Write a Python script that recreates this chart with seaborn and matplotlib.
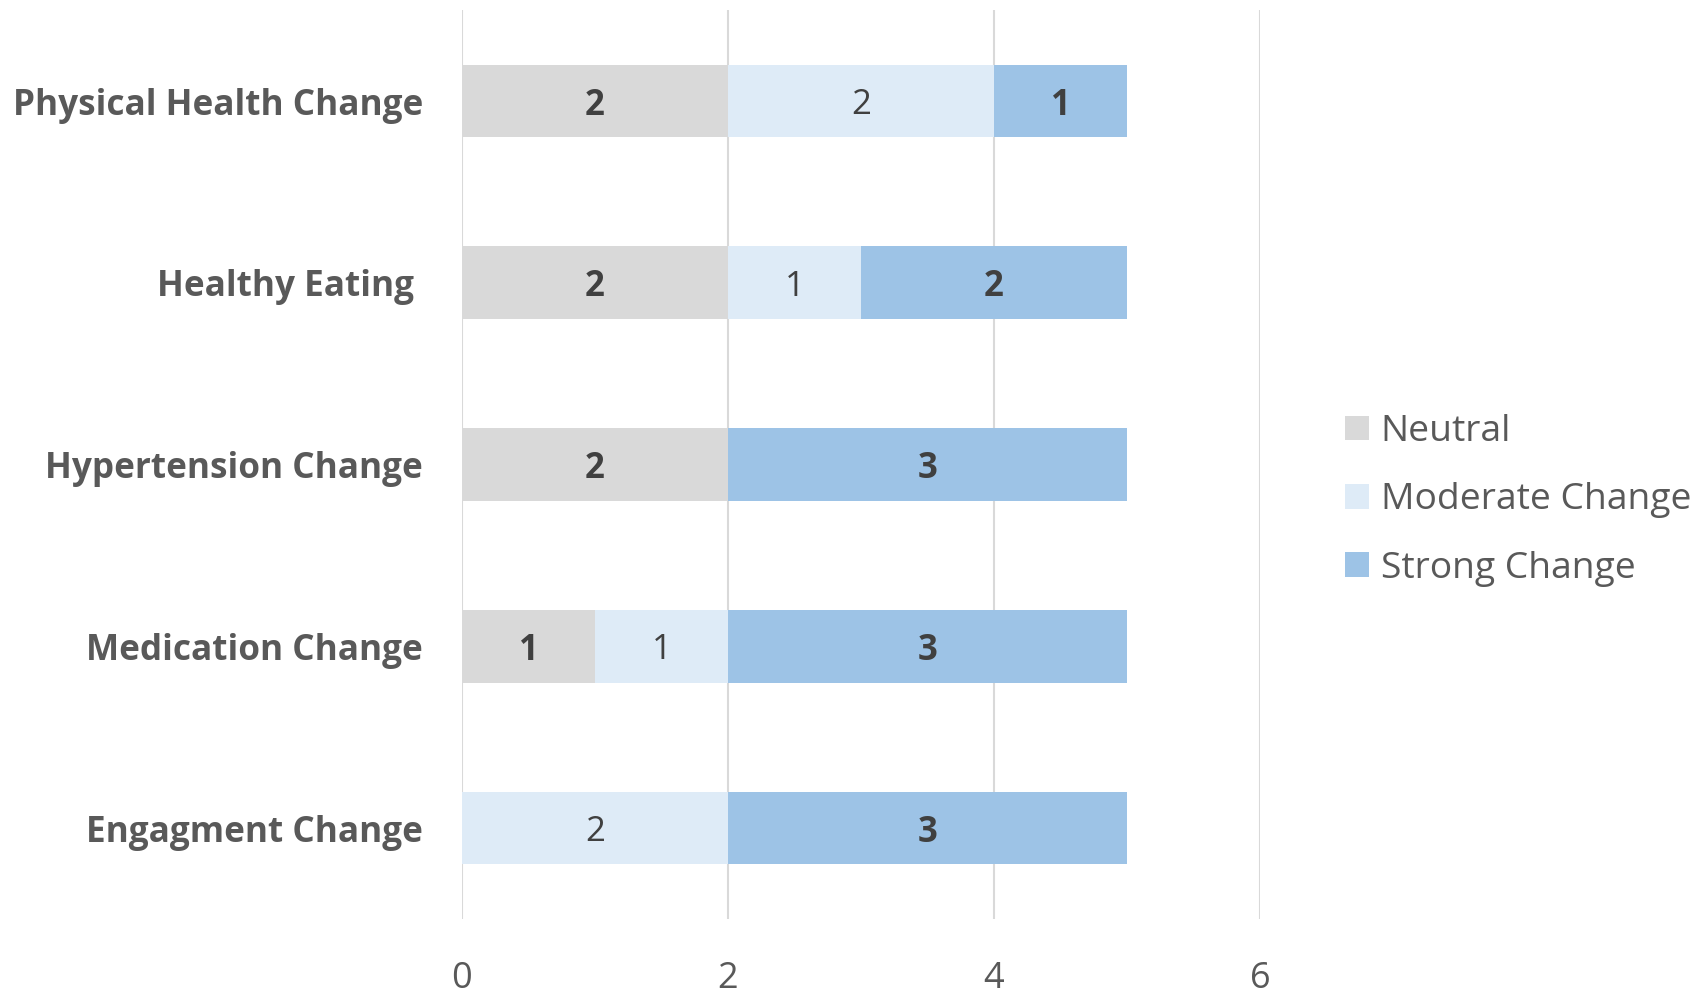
import matplotlib
matplotlib.use("Agg")
import matplotlib.pyplot as plt
import seaborn as sns
import pandas as pd
import numpy as np

# Survey results: number of participants per change level
categories = ["Physical Health Change", "Healthy Eating ", "Hypertension Change",
              "Medication Change", "Engagment Change"]
neutral = [2, 2, 2, 1, 0]
moderate = [2, 1, 0, 1, 2]
strong = [1, 2, 3, 3, 3]
series_names = ["Neutral", "Moderate Change", "Strong Change"]
x_ticks = [0, 2, 4, 6]

colors = {"Neutral": "#D9D9D9", "Moderate Change": "#DEEBF7", "Strong Change": "#9DC3E6"}
text_grey = "#595959"
value_grey = "#404040"

sns.set_theme(style="white")
plt.rcParams["font.family"] = ["Open Sans", "DejaVu Sans"]

df = pd.DataFrame({"category": categories, "Neutral": neutral,
                   "Moderate Change": moderate, "Strong Change": strong})
df["cum_neutral"] = df["Neutral"]
df["cum_moderate"] = df["cum_neutral"] + df["Moderate Change"]
df["cum_strong"] = df["cum_moderate"] + df["Strong Change"]

fig = plt.figure(figsize=(17.01, 10.01), dpi=100)
ax = fig.add_axes([0.2716, 0.0819, 0.4691, 0.908])

# Stacked bars drawn as overlapping cumulative totals, longest first
for col, name in [("cum_strong", "Strong Change"),
                  ("cum_moderate", "Moderate Change"),
                  ("cum_neutral", "Neutral")]:
    sns.barplot(data=df, x=col, y="category", order=categories, orient="h",
                color=colors[name], saturation=1, width=0.4, label=name,
                linewidth=0, ax=ax, zorder=2)

# Segment value labels
for i, cat in enumerate(categories):
    start = 0
    for name in series_names:
        v = df.loc[i, name]
        if v > 0:
            bold = name != "Moderate Change"
            ax.text(start + v / 2, i, f"{v}", ha="center", va="center_baseline",
                    fontsize=25, color=value_grey,
                    fontweight="bold" if bold else "normal", zorder=3)
        start += v

ax.set_xlim(0, 6)
ax.set_ylim(4.5, -0.5)
ax.set_xticks(x_ticks)
ax.set_xticklabels([str(t) for t in x_ticks])
ax.set_xlabel("")
ax.set_ylabel("")
ax.xaxis.grid(True, color="#D9D9D9", linewidth=1.5, zorder=0)
ax.set_axisbelow(True)
for s in ax.spines.values():
    s.set_visible(False)
ax.tick_params(axis="x", length=0, pad=30, labelsize=26, labelcolor=text_grey)
ax.tick_params(axis="y", length=0, pad=28, labelsize=25.3, labelcolor=text_grey)
for lbl in ax.get_yticklabels():
    lbl.set_fontweight("bold")
    lbl.set_verticalalignment("center_baseline")

handles, labels = ax.get_legend_handles_labels()
if ax.get_legend() is not None:
    ax.get_legend().remove()
order = [labels.index(n) for n in series_names]
leg = fig.legend([handles[k] for k in order], series_names,
                 loc="center left", bbox_to_anchor=(0.7907, 0.5002),
                 frameon=False, fontsize=26.8, handlelength=0.64, handleheight=0.64,
                 handletextpad=0.32, labelspacing=0.87, labelcolor=text_grey,
                 borderpad=0, borderaxespad=0)

fig.savefig("out.png", dpi=100, facecolor="white")
